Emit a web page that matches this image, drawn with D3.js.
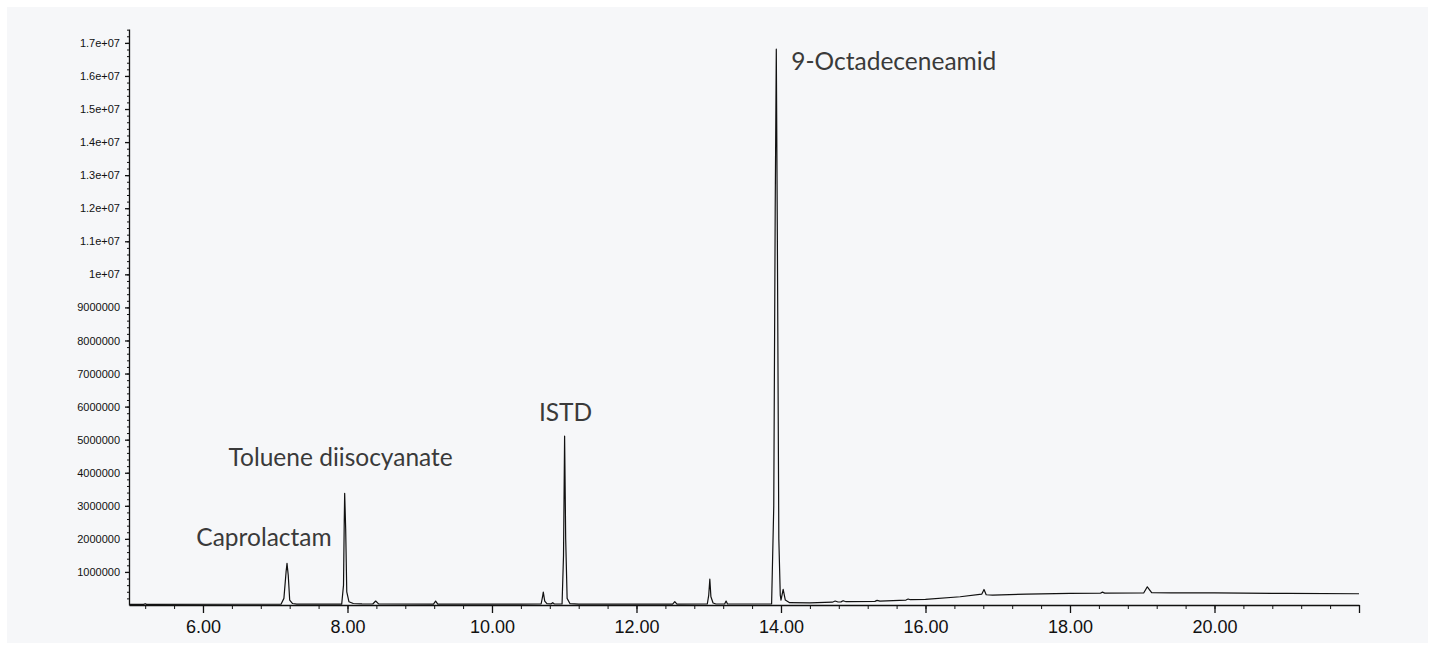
<!DOCTYPE html>
<html>
<head>
<meta charset="utf-8">
<script src="https://cdn.jsdelivr.net/npm/d3@7"></script>
<style>
  body { margin: 0; background: #ffffff; }
  svg { display: block; }
  .peak-label { font-family: Lato, "Open Sans", sans-serif; font-size: 24.5px; font-weight: 400; fill: #3a3a3a; }
  .tick text { font-family: "Liberation Sans", Arial, sans-serif; fill: #111; }
</style>
</head>
<body>
<script>
// retention time (min) and abundance of the trace
let retentionTime = [
  4.976, 5.18, 5.20, 5.22, 6.50, 7.08, 7.12, 7.15, 7.163, 7.18, 7.20, 7.24, 7.30,
  7.92, 7.945, 7.955, 7.961, 7.975, 7.99, 8.02, 8.08, 8.20, 8.35, 8.39, 8.43,
  9.19, 9.22, 9.25, 10.40, 10.68, 10.70, 10.71, 10.73, 10.76, 10.82, 10.84, 10.86,
  10.97, 10.99, 11.005, 11.02, 11.04, 11.08, 11.20, 12.50, 12.53, 12.56,
  12.98, 13.00, 13.015, 13.03, 13.06, 13.10, 13.22, 13.24, 13.26,
  13.87, 13.90, 13.92, 13.935, 13.95, 13.97, 13.99, 14.00, 14.03, 14.06, 14.12,
  14.40, 14.71, 14.75, 14.79, 14.83, 14.86, 14.90, 15.30, 15.33, 15.37,
  15.73, 15.76, 15.79, 16.00, 16.48, 16.78, 16.81, 16.84, 16.93, 17.40, 18.00,
  18.42, 18.45, 18.48, 19.02, 19.07, 19.13, 19.40, 20.00, 21.00, 22.00
];
let abundance = [
  20000, 20000, 40000, 20000, 22000, 25000, 200000, 1000000, 1260000, 900000, 150000, 45000, 28000,
  28000, 600000, 2500000, 3380000, 2300000, 400000, 100000, 45000, 32000, 30000, 120000, 32000,
  28000, 120000, 28000, 25000, 30000, 250000, 390000, 120000, 40000, 35000, 70000, 35000,
  30000, 1500000, 5110000, 2000000, 200000, 40000, 25000, 25000, 100000, 25000,
  30000, 300000, 780000, 250000, 60000, 30000, 30000, 120000, 30000,
  30000, 3000000, 12000000, 16810000, 11000000, 2000000, 300000, 150000, 470000, 150000, 70000,
  65000, 85000, 120000, 90000, 95000, 130000, 100000, 110000, 140000, 115000,
  150000, 180000, 160000, 170000, 250000, 330000, 470000, 310000, 300000, 330000, 350000,
  355000, 390000, 360000, 365000, 550000, 375000, 365000, 365000, 350000, 340000
];

// peak annotations
let peakNames = ["Caprolactam", "Toluene diisocyanate", "ISTD", "9-Octadeceneamid"];
let peakTimes = [7.163, 7.961, 11.005, 13.935];
let peakHeights = [1260000, 3380000, 5110000, 16810000];

// axis ticks
let yTickValues = [1e6, 2e6, 3e6, 4e6, 5e6, 6e6, 7e6, 8e6, 9e6, 1e7, 1.1e7, 1.2e7, 1.3e7, 1.4e7, 1.5e7, 1.6e7, 1.7e7];
let yTickLabels = ["1000000", "2000000", "3000000", "4000000", "5000000", "6000000", "7000000", "8000000",
  "9000000", "1e+07", "1.1e+07", "1.2e+07", "1.3e+07", "1.4e+07", "1.5e+07", "1.6e+07", "1.7e+07"];
let xTickValues = [6, 8, 10, 12, 14, 16, 18, 20, 22];
let xTickLabels = ["6.00", "8.00", "10.00", "12.00", "14.00", "16.00", "18.00", "20.00", ""];

let width = 1435;
let height = 650;

let svg = d3.select('body')
    .append('svg')
    .attr('width', width)
    .attr('height', height);

// light panel
svg.append('rect')
    .attr('x', 7)
    .attr('y', 7)
    .attr('width', 1421)
    .attr('height', 636)
    .attr('fill', '#f6f7f9');

let xScale = d3.scaleLinear()
    .domain([4.976, 22])
    .range([129, 1359]);

let yScale = d3.scaleLinear()
    .domain([0, 17.42e6])
    .range([605, 29]);

// minor ticks
let xMinor = d3.range(0, 43).map(i => +(5.2 + i * 0.4).toFixed(1));
let yMinor = d3.range(1, 88).map(i => i * 200000);

svg.append('g')
    .attr('transform', 'translate(0,605)')
    .call(d3.axisBottom(xScale).tickValues(xMinor).tickSize(4).tickFormat(''))
    .call(g => g.select('.domain').remove())
    .selectAll('line').attr('stroke', '#111');

svg.append('g')
    .attr('transform', 'translate(129,0)')
    .call(d3.axisLeft(yScale).tickValues(yMinor).tickSize(2).tickFormat(''))
    .call(g => g.select('.domain').remove())
    .selectAll('line').attr('stroke', '#111');

// major axes
let xAxis = d3.axisBottom(xScale)
    .tickValues(xTickValues)
    .tickSize(8)
    .tickSizeOuter(0)
    .tickPadding(7)
    .tickFormat((d, i) => xTickLabels[i]);

let yAxis = d3.axisLeft(yScale)
    .tickValues(yTickValues)
    .tickSize(4)
    .tickSizeOuter(0)
    .tickPadding(5)
    .tickFormat((d, i) => yTickLabels[i]);

svg.append('g')
    .attr('id', 'x-axis')
    .attr('transform', 'translate(0,605)')
    .call(xAxis)
    .call(g => g.selectAll('text').attr('font-size', 18))
    .call(g => g.selectAll('line, path').attr('stroke', '#111').attr('stroke-width', 1.3));

svg.append('g')
    .attr('id', 'y-axis')
    .attr('transform', 'translate(129,0)')
    .call(yAxis)
    .call(g => g.selectAll('text').attr('font-size', 11))
    .call(g => g.selectAll('line, path').attr('stroke', '#111').attr('stroke-width', 1.3));

// trace
let points = retentionTime.map((t, i) => [t, abundance[i]]);

let line = d3.line()
    .x(d => xScale(d[0]))
    .y(d => yScale(d[1]));

svg.append('path')
    .datum(points)
    .attr('d', line)
    .attr('fill', 'none')
    .attr('stroke', '#111')
    .attr('stroke-width', 1.2)
    .attr('stroke-linejoin', 'round');

// labels placed relative to their peak
let labelOffsets = [[-23, -17, 'middle'], [-4, -27, 'middle'], [1, -15, 'middle'], [15, 21, 'start']];

svg.selectAll('.peak-label')
    .data(peakNames)
    .enter()
    .append('text')
    .attr('class', 'peak-label')
    .attr('x', (d, i) => xScale(peakTimes[i]) + labelOffsets[i][0])
    .attr('y', (d, i) => yScale(peakHeights[i]) + labelOffsets[i][1])
    .attr('text-anchor', (d, i) => labelOffsets[i][2])
    .text(d => d);
</script>
</body>
</html>
